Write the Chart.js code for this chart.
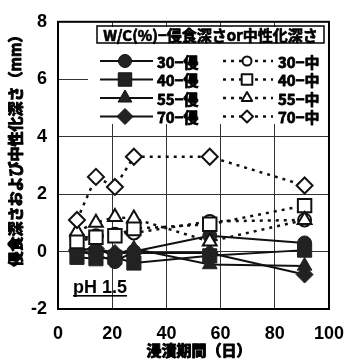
<!DOCTYPE html>
<html><head><meta charset="utf-8">
<script src="https://cdn.jsdelivr.net/npm/chart.js@4"></script>
<style>html,body{margin:0;padding:0;background:#fff}#wrap{width:358px;height:362px;position:relative}</style>
</head><body><div id="wrap"><canvas id="c" width="358" height="362"></canvas></div>
<script>
// ---- data ----
const days = [7, 14, 21, 28, 56, 91];
// erosion depth (侵) – filled markers, solid lines
const ero30 = [0.0, -0.1, -0.35, 0.0, 0.55, 0.3];
const ero40 = [-0.2, -0.25, -0.2, -0.4, -0.15, 0.05];
const ero55 = [0.1, 0.05, -0.1, 0.1, -0.45, -0.5];
const ero70 = [0.05, 0.1, -0.05, -0.05, -0.05, -0.8];
// neutralization depth (中) – open markers, dotted lines
const neu30 = [0.45, 0.55, 0.6, 0.65, 1.05, 1.1];
const neu40 = [0.35, 0.5, 0.55, 0.8, 0.95, 1.6];
const neu55 = [0.7, 1.0, 1.2, 1.15, 0.35, 1.1];
const neu70 = [1.1, 2.6, 2.25, 3.3, 3.3, 2.3];
const xTicks = [0, 20, 40, 60, 80, 100];
const yTicks = [-2, 0, 2, 4, 6, 8];
const eroLabels = ['30−侵', '40−侵', '55−侵', '70−侵'];
const neuLabels = ['30−中', '40−中', '55−中', '70−中'];
const legendTitle = 'W/C(%)−侵食深さor中性化深さ';
const xTitle = '浸漬期間（日）';
const yTitle = '侵食深さおよび中性化深さ（mm）';
const noteText = 'pH 1.5';

const styles = ['circle', 'rect', 'triangle', 'rectRot'];
const radii = {circle: 7, rect: 10, triangle: 8.5, rectRot: 8.5};
const CJK = '"Noto Sans CJK JP", "Noto Sans CJK SC", sans-serif';
const pts = arr => days.map((d, i) => ({x: d, y: arr[i]}));

const eroSets = [ero30, ero40, ero55, ero70];
const neuSets = [neu30, neu40, neu55, neu70];
const neuOrder = [3, 2, 1, 0];
const datasets = [];
neuSets.forEach((arr, i) => datasets.push({
  label: neuLabels[i], data: pts(arr), borderColor: '#111', borderWidth: 2.5,
  borderDash: [3, 5], pointStyle: styles[i], pointRadius: radii[styles[i]] - 0.5,
  pointBackgroundColor: '#fff', pointBorderColor: '#111', pointBorderWidth: 2,
  fill: false, tension: 0, order: neuOrder[i]
}));
eroSets.forEach((arr, i) => datasets.push({
  label: eroLabels[i], data: pts(arr), borderColor: '#111', borderWidth: 2,
  pointStyle: styles[i], pointRadius: radii[styles[i]],
  pointBackgroundColor: '#222', pointBorderColor: '#222', pointBorderWidth: 1,
  fill: false, tension: 0, order: 4 + i
}));

function marker(ctx, style, x, y, r, filled) {
  ctx.save();
  ctx.beginPath();
  if (style === 'circle') ctx.arc(x, y, r, 0, Math.PI * 2);
  else if (style === 'rect') { const s = r * Math.SQRT1_2; ctx.rect(x - s, y - s, 2 * s, 2 * s); }
  else if (style === 'triangle') {
    for (let k = 0; k < 3; k++) { const a = k * 2 * Math.PI / 3; const px = x + Math.sin(a) * r, py = y - Math.cos(a) * r; k ? ctx.lineTo(px, py) : ctx.moveTo(px, py); }
    ctx.closePath();
  } else { ctx.moveTo(x, y - r); ctx.lineTo(x + r, y); ctx.lineTo(x, y + r); ctx.lineTo(x - r, y); ctx.closePath(); }
  ctx.fillStyle = filled ? '#222' : '#fff';
  ctx.fill();
  ctx.lineWidth = filled ? 1 : 2;
  ctx.strokeStyle = '#111';
  ctx.stroke();
  ctx.restore();
}
function boldText(ctx, t, x, y, sw) {
  ctx.lineWidth = sw; ctx.strokeStyle = '#000'; ctx.lineJoin = 'round';
  ctx.strokeText(t, x, y); ctx.fillText(t, x, y);
}

const decor = {
  id: 'decor',
  beforeDatasetsDraw(chart) {
    const ctx = chart.ctx, a = chart.chartArea;
    ctx.save();
    ctx.fillStyle = '#fff';
    ctx.fillRect(88, 27, 245, 97);
    ctx.strokeStyle = '#000'; ctx.lineWidth = 2;
    ctx.strokeRect(a.left, a.top, a.right - a.left, a.bottom - a.top);
    ctx.lineWidth = 1.5;
    ctx.strokeRect(97, 26, 227, 17);
    ctx.fillStyle = '#000';
    ctx.font = 'bold 15px ' + CJK;
    ctx.textBaseline = 'middle'; ctx.textAlign = 'center';
    boldText(ctx, legendTitle, 210.5, 35, 0.7);
    const rows = [61, 79.5, 98, 116.5];
    ctx.textAlign = 'left';
    rows.forEach((ry, i) => {
      ctx.setLineDash([]); ctx.lineWidth = 2; ctx.strokeStyle = '#111';
      ctx.beginPath(); ctx.moveTo(100, ry); ctx.lineTo(153, ry); ctx.stroke();
      marker(ctx, styles[i], 125, ry, radii[styles[i]] - 0.5, true);
      ctx.setLineDash([3, 5]); ctx.lineWidth = 2.5; ctx.strokeStyle = '#111';
      ctx.beginPath(); ctx.moveTo(223, ry); ctx.lineTo(273, ry); ctx.stroke();
      ctx.setLineDash([]);
      marker(ctx, styles[i], 247, ry, radii[styles[i]] - 2.5, false);
      ctx.fillStyle = '#000';
      ctx.font = 'bold 15px ' + CJK;
      boldText(ctx, eroLabels[i], 157, ry + 1, 0.8);
      boldText(ctx, neuLabels[i], 278, ry + 1, 0.8);
    });
    ctx.font = 'bold 18px "Liberation Sans", Arial, sans-serif';
    ctx.textBaseline = 'alphabetic';
    ctx.fillText(noteText, 73, 293);
    const w = ctx.measureText(noteText).width;
    ctx.fillRect(73, 295, w, 1.6);
    ctx.restore();
  },
  afterDraw(chart) {
    const ctx = chart.ctx;
    ctx.save();
    ctx.fillStyle = '#000';
    ctx.font = 'bold 15px ' + CJK;
    ctx.textAlign = 'center'; ctx.textBaseline = 'middle';
    boldText(ctx, xTitle, 199, 350, 1);
    ctx.translate(15, 147);
    ctx.rotate(-Math.PI / 2);
    boldText(ctx, yTitle, 0, 0, 1);
    ctx.restore();
  }
};

new Chart(document.getElementById('c'), {
  type: 'line',
  data: {datasets},
  options: {
    responsive: false, animation: false,
    layout: {padding: {top: 12, right: 12, left: 0, bottom: 0}},
    plugins: {legend: {display: false}, tooltip: {enabled: false}},
    scales: {
      x: {
        type: 'linear', min: 0, max: 100,
        afterBuildTicks: s => { s.ticks = xTicks.map(v => ({value: v})); },
        afterFit: s => { s.height = 53; },
        grid: {color: '#333', lineWidth: 1, drawTicks: false},
        border: {display: false},
        ticks: {color: '#000', padding: 14, font: {family: '"Liberation Sans", Arial', size: 18, weight: 'bold'}}
      },
      y: {
        type: 'linear', min: -2, max: 8,
        afterBuildTicks: s => { s.ticks = yTicks.map(v => ({value: v})); },
        afterFit: s => { s.width = 58; },
        grid: {color: '#333', lineWidth: 1, drawTicks: false},
        border: {display: false},
        ticks: {color: '#000', padding: 11, font: {family: '"Liberation Sans", Arial', size: 18, weight: 'bold'},
          callback: v => String(v)}
      }
    }
  },
  plugins: [decor]
});
</script>
</body></html>
